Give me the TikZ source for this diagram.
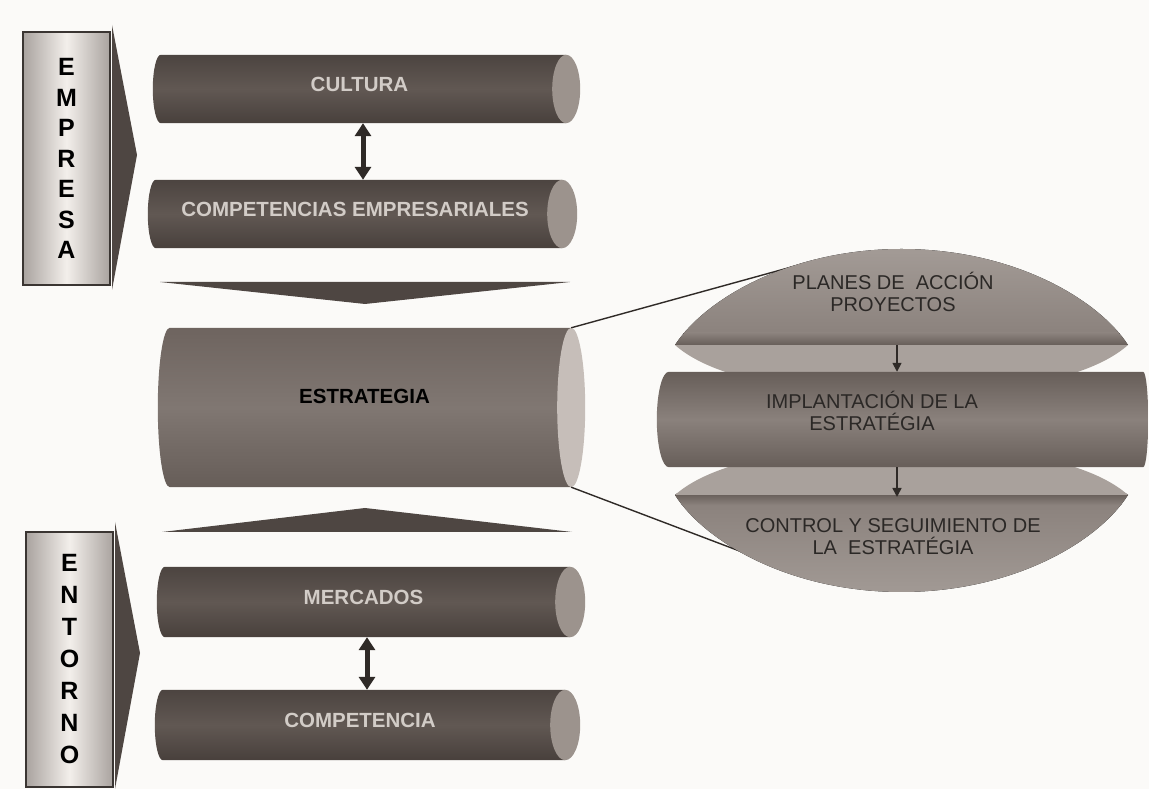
\documentclass[tikz,border=0pt]{standalone}
\usepackage{fontspec}
\setmainfont{Liberation Sans}
\usetikzlibrary{arrows.meta,calc,backgrounds}
\definecolor{paper}{HTML}{FBFAF8}
\definecolor{boxedge}{HTML}{A9A39F}
\definecolor{boxmid}{HTML}{F3EFEB}
\definecolor{boxline}{HTML}{3A3532}
\definecolor{chevc}{HTML}{4E4642}
\definecolor{darktop}{HTML}{4C4440}
\definecolor{darkmid}{HTML}{615853}
\definecolor{darkbot}{HTML}{48403C}
\definecolor{darkcap}{HTML}{9C938D}
\definecolor{estrtop}{HTML}{6E645F}
\definecolor{estrmid}{HTML}{807772}
\definecolor{estrbot}{HTML}{665D58}
\definecolor{estrcap}{HTML}{C6BEB9}
\definecolor{cyltext}{HTML}{D2CCC7}
\definecolor{arrowc}{HTML}{2F2A27}
\definecolor{lensA}{HTML}{A39B96}
\definecolor{lensB}{HTML}{8B827D}
\definecolor{lensC}{HTML}{A9A19C}
\definecolor{lensband}{HTML}{675E59}
\definecolor{midtop}{HTML}{675E59}
\definecolor{midmid}{HTML}{8A817C}
\definecolor{midbot}{HTML}{675E59}
\definecolor{rtextc}{HTML}{2B2826}

\newcommand\cylleft[5]{%
  \path[#4] let \p1=(#1.north west), \p2=(#1.south east), \n1={(\y1-\y2)/2} in
    (\x2,\y1) -- (\x1+#2pt,\y1) arc[start angle=90,end angle=270,x radius=#2pt,y radius=\n1] -- (\x2,\y2) -- cycle;
  \path[fill=#5] let \p1=(#1.north west), \p2=(#1.south east), \n1={(\y1-\y2)/2} in
    (#1.east) ellipse[x radius=#3pt,y radius=\n1];
}
\newcommand\cylboth[4]{%
  \path[#4] let \p1=(#1.north west), \p2=(#1.south east), \n1={(\y1-\y2)/2} in
    (\x2,\y1) -- (\x1+#2pt,\y1) arc[start angle=90,end angle=270,x radius=#2pt,y radius=\n1]
    -- (\x2,\y2) arc[start angle=-90,end angle=90,x radius=#3pt,y radius=\n1] -- cycle;
}

\begin{document}
\begin{tikzpicture}[x=1pt,y=1pt,
  sidebox/.style={draw=boxline, line width=1.5pt, left color=boxedge, right color=boxedge, middle color=boxmid,
     align=center, inner sep=0pt, text=black},
  cyl/.style={inner sep=0pt, font=\fontsize{20.5}{22}\selectfont\bfseries, text=cyltext, text depth=9pt},
  darkbody/.style={top color=darktop, bottom color=darkbot, middle color=darkmid},
  estrbody/.style={top color=estrtop, bottom color=estrbot, middle color=estrmid},
  midbody/.style={top color=midtop, bottom color=midbot, middle color=midmid},
  chev/.style={fill=chevc},
  dbl/.style={draw=arrowc, line width=5pt, {Triangle[length=13pt,width=16pt]}-{Triangle[length=13pt,width=16pt]}},
  smallarr/.style={draw=arrowc, line width=1.6pt, -{Triangle[length=9pt,width=9pt]}},
  thinline/.style={draw=arrowc, line width=1.4pt},
  rtext/.style={align=center, inner sep=0pt, font=\fontsize{20}{21.5}\selectfont, text=rtextc}]

\begin{scope}[on background layer]
  \fill[paper] (0,0) rectangle (1149,789);
\end{scope}
\useasboundingbox (0,0) rectangle (1149,789);

% side boxes
\node[sidebox, minimum width=87pt, minimum height=253pt, font=\fontsize{25}{30.5}\selectfont\bfseries] (empresa) at (66.5,630.5) {E\\M\\P\\R\\E\\S\\A};
\node[sidebox, minimum width=87pt, minimum height=255pt, font=\fontsize{25}{32}\selectfont\bfseries] (entorno) at (69.5,129.5) {E\\N\\T\\O\\R\\N\\O};
\fill[chev] (112,764) -- (137,634) -- (112,499) -- cycle;
\fill[chev] (115,267) -- (140,136) -- (115,0) -- cycle;

% left cylinders
\node[cyl, minimum width=413pt, minimum height=68pt] (cult) at (359.5,700) {CULTURA};
\node[cyl, minimum width=414pt, minimum height=68pt] (compemp) at (355,575) {COMPETENCIAS EMPRESARIALES};
\node[cyl, minimum width=413pt, minimum height=159pt, text=black, text depth=23pt] (estr) at (364.5,381.5) {ESTRATEGIA};
\node[cyl, minimum width=413pt, minimum height=70pt] (merc) at (363.5,187) {MERCADOS};
\node[cyl, minimum width=410pt, minimum height=70pt] (compe) at (360,64) {COMPETENCIA};

% right side nodes
\node[inner sep=0pt, minimum width=486pt, minimum height=95pt] (impl) at (900,369.5) {};
\node[rtext] (planes) at (893,497) {PLANES DE~ ACCIÓN\\PROYECTOS};
\node[rtext] (implt) at (872,378) {IMPLANTACIÓN DE LA\\ESTRATÉGIA};
\node[rtext] (control) at (893,252.5) {CONTROL Y SEGUIMIENTO DE\\LA~ ESTRATÉGIA};

\coordinate (tt) at (805,525.7);
\coordinate (bt) at (750,234);

\begin{scope}[on background layer]
  \cylleft{cult}{8}{14}{darkbody}{darkcap}
  \cylleft{compemp}{8}{15}{darkbody}{darkcap}
  \cylleft{estr}{12}{14}{estrbody}{estrcap}
  \cylleft{merc}{8}{15}{darkbody}{darkcap}
  \cylleft{compe}{8}{15}{darkbody}{darkcap}
  % wedges
  \fill[chev] (160,507) -- (570,507) -- (365,485) -- cycle;
  \fill[chev] (162,257) -- (572,257) -- (365,281) -- cycle;
  % zoom lines
  \draw[thinline] (estr.north east) -- (tt);
  \draw[thinline] (estr.south east) -- (bt);
  % upper lens
  \begin{scope}
    \path[clip] (675,444) .. controls (705,490) and (790,540) .. (901.5,540)
      .. controls (1013,540) and (1098,490) .. (1128,444)
      .. controls (1090,410) and (1000,394) .. (901.5,394)
      .. controls (803,394) and (713,410) .. (675,444) -- cycle;
    \fill[top color=lensA, bottom color=lensB] (600,455) rectangle (1149,541);
    \fill[top color=lensB, bottom color=lensband] (600,444) rectangle (1149,456);
    \fill[lensC] (600,390) rectangle (1149,444);
  \end{scope}
  % lower lens
  \begin{scope}
    \path[clip] (675,294) .. controls (705,247) and (790,197) .. (901.5,197)
      .. controls (1013,197) and (1098,247) .. (1128,294)
      .. controls (1090,328) and (1000,344) .. (901.5,344)
      .. controls (803,344) and (713,328) .. (675,294) -- cycle;
    \fill[top color=lensB, bottom color=lensA] (600,190) rectangle (1149,285);
    \fill[top color=lensband, bottom color=lensB] (600,284) rectangle (1149,295);
    \fill[lensC] (600,294) rectangle (1149,350);
  \end{scope}
  \cylboth{impl}{12}{5}{midbody}
\end{scope}

% connectors
\coordinate (a1) at (363,0);
\draw[dbl] (cult.south -| a1) -- (compemp.north -| a1);
\coordinate (a2) at (367,0);
\draw[dbl] (merc.south -| a2) -- (compe.north -| a2);
\coordinate (ua) at (897,444);
\draw[smallarr] (ua) -- (ua |- impl.north);
\coordinate (lb) at (897,292);
\draw[smallarr] (lb |- impl.south) -- (lb);
\end{tikzpicture}
\end{document}
